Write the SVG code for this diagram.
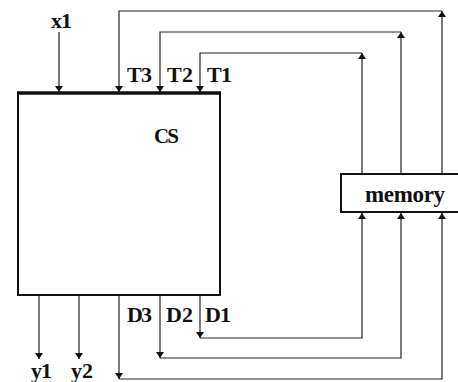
<svg xmlns="http://www.w3.org/2000/svg" width="458" height="382" viewBox="0 0 458 382">
<defs>
<marker id="ah" viewBox="0 0 6 8" refX="6" refY="4" markerWidth="6" markerHeight="8" markerUnits="userSpaceOnUse" orient="auto">
<path d="M0,0 L6,4 L0,8 z" fill="#111"/>
</marker>
<style>
.box{fill:#fff;stroke:#111;stroke-width:2}
.c{fill:none;stroke:#222;stroke-width:1.2}
.a{marker-end:url(#ah)}
.t{font-family:"Liberation Serif","Times New Roman",serif;font-weight:bold;fill:#111}
</style>
</defs>
<rect width="458" height="382" fill="#fff"/>
<g id="cs">
<rect class="box" x="18" y="93" width="202" height="202"/>
<line x1="17" y1="93" x2="221" y2="93" stroke="#111" stroke-width="3.5"/>
<text class="t" x="154" y="143" font-size="21" textLength="25">CS</text>
</g>
<g id="memory">
<rect class="box" x="341" y="174" width="122" height="38"/>
<text class="t" x="365" y="202" font-size="23" textLength="80">memory</text>
</g>
<g id="labels">
<text class="t" x="51" y="28" font-size="22" textLength="21">x1</text>
<text class="t" x="127" y="82" font-size="22" textLength="25">T3</text>
<text class="t" x="167" y="82" font-size="22" textLength="26">T2</text>
<text class="t" x="207" y="82" font-size="22" textLength="25">T1</text>
<text class="t" x="127" y="322" font-size="22" textLength="25">D3</text>
<text class="t" x="166" y="322" font-size="22" textLength="27">D2</text>
<text class="t" x="205" y="322" font-size="22" textLength="26">D1</text>
<text class="t" x="31" y="378" font-size="22" textLength="21">y1</text>
<text class="t" x="71" y="378" font-size="22" textLength="22">y2</text>
</g>
<g id="connectors">
<path class="c a" d="M59,32 V92"/>
<path class="c a" d="M39,296 V359"/>
<path class="c a" d="M79,296 V359"/>
<path class="c a" d="M442,174 V11"/>
<path class="c a" d="M442,11 H119 V92"/>
<path class="c a" d="M401,174 V32"/>
<path class="c a" d="M401,32 H160 V92"/>
<path class="c a" d="M362,174 V53"/>
<path class="c a" d="M362,53 H200 V92"/>
<path class="c a" d="M200,296 V338"/>
<path class="c a" d="M200,338 H362 V213"/>
<path class="c a" d="M160,296 V358"/>
<path class="c a" d="M160,358 H401 V213"/>
<path class="c a" d="M119,296 V379"/>
<path class="c a" d="M119,379 H442 V213"/>
</g>
</svg>
